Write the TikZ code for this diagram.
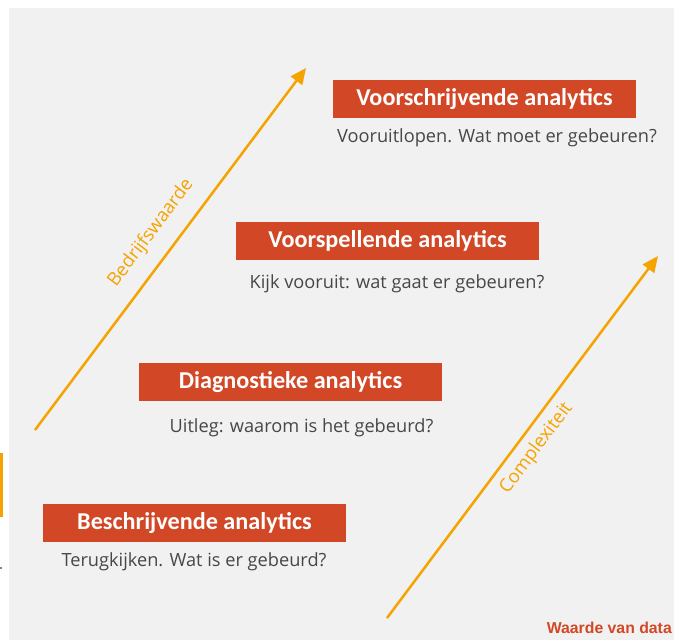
\documentclass[tikz,border=0pt]{standalone}
\usepackage{fontspec}
\setmainfont{Carlito}
\newfontfamily\subfont{Open Sans}
\newfontfamily\datafont{Liberation Sans}
\usetikzlibrary{arrows.meta}
\definecolor{bggray}{HTML}{F1F1F1}
\definecolor{boxred}{HTML}{D24726}
\definecolor{axisorange}{HTML}{F5A300}
\definecolor{subgray}{HTML}{474747}
\tikzset{
  titlebox/.style={fill=boxred, text=white, minimum width=303pt, minimum height=38pt, inner sep=0pt, font=\bfseries\fontsize{24.2}{28}\selectfont},
  subtext/.style={text=subgray, inner sep=0pt, anchor=base, font=\subfont\fontsize{18.2}{21}\selectfont},
  axisarrow/.style={draw=axisorange, line width=2.5pt, -{Triangle[length=16pt,width=14pt]}},
  axislabel/.style={text=axisorange, inner sep=0pt, rotate=53.2, font=\subfont\fontsize{18.5}{21}\selectfont}
}
\begin{document}
\begin{tikzpicture}[x=1pt,y=-1pt]
\useasboundingbox (0,0) rectangle (674,640);
\fill[bggray] (9,8) rectangle (674,640);
\fill[axisorange] (0,453) rectangle (3,517);
\fill[gray] (0,567) rectangle (1.5,569);

\node[titlebox] (t1) at (484.5,99) {Voorschrijvende analytics};
\node[subtext] (s1) at (497,142) {Vooruitlopen. Wat moet er gebeuren?};
\node[titlebox] (t2) at (387.5,240.5) {Voorspellende analytics};
\node[subtext] (s2) at (397,288.5) {Kijk vooruit: wat gaat er gebeuren?};
\node[titlebox] (t3) at (290.5,382) {Diagnostieke analytics};
\node[subtext] (s3) at (301.5,432) {Uitleg: waarom is het gebeurd?};
\node[titlebox] (t4) at (194.5,523) {Beschrijvende analytics};
\node[subtext] (s4) at (194,566) {Terugkijken. Wat is er gebeurd?};

\coordinate (a1s) at (35,430);
\coordinate (a1e) at (306,68);
\coordinate (a2s) at (387,618);
\coordinate (a2e) at (658,256);
\draw[axisarrow] (a1s) -- (a1e);
\draw[axisarrow] (a2s) -- (a2e);
\node[axislabel] (l1) at (151,233) {Bedrijfswaarde};
\node[axislabel] (l2) at (536.5,448.5) {Complexiteit};

\node[text=boxred, inner sep=0pt, anchor=base east, font=\datafont\bfseries\fontsize{15.8}{18}\selectfont] (wd) at (672,633) {Waarde van data};
\end{tikzpicture}
\end{document}
